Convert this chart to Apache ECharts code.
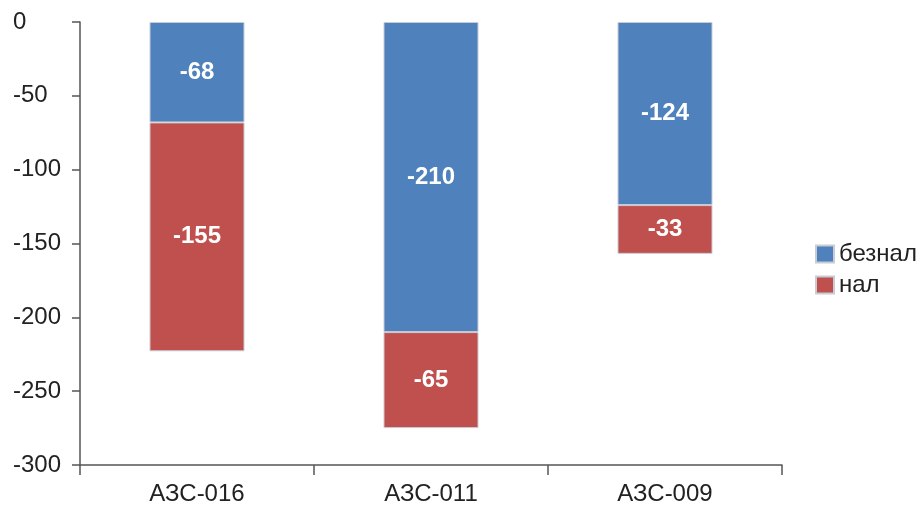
<!DOCTYPE html>
<html><head><meta charset="utf-8">
<script src="https://cdn.jsdelivr.net/npm/echarts@6/dist/echarts.min.js"></script>
<style>html,body{margin:0;padding:0;background:#fff}#c{width:924px;height:506px}</style>
</head><body><div id="c"></div>
<script>
const categories = ['АЗС-016', 'АЗС-011', 'АЗС-009'];
const beznal = [-68, -210, -124];
const nal = [-155, -65, -33];
const yTicks = [0, -50, -100, -150, -200, -250, -300];

const chart = echarts.init(document.getElementById('c'));
const FF = 'Liberation Sans, Arial, sans-serif';
const lbl = {show: true, position: 'inside', color: '#fff', fontWeight: 'bold', fontSize: 24, fontFamily: FF};
chart.setOption({
  animation: false,
  backgroundColor: '#fff',
  textStyle: {fontFamily: FF},
  grid: {left: 80, right: 142, top: 22, bottom: 41},
  legend: {
    orient: 'vertical', left: 810, top: 237, itemWidth: 18, itemHeight: 17, itemGap: 7,
    icon: 'rect',
    textStyle: {fontSize: 24, color: '#222'},
    data: ['безнал', 'нал']
  },
  xAxis: {
    type: 'category', data: categories,
    axisLine: {onZero: false, lineStyle: {color: '#555', width: 1.5}},
    axisTick: {show: true, length: 10, lineStyle: {color: '#555', width: 1.5}},
    axisLabel: {fontSize: 24, color: '#222', margin: 17}
  },
  yAxis: {
    type: 'value', min: -300, max: 0, interval: 50,
    splitLine: {show: false},
    axisLine: {show: true, lineStyle: {color: '#555', width: 1.5}},
    axisTick: {show: true, length: 8, lineStyle: {color: '#555', width: 1.5}},
    axisLabel: {fontSize: 24, color: '#222', align: 'left', margin: 67,
      formatter: v => yTicks.includes(v) ? String(v) : ''}
  },
  series: [
    {name: 'безнал', type: 'bar', stack: 's', data: beznal, barWidth: 95,
     itemStyle: {color: '#4F81BD', borderColor: '#c8ccd4', borderWidth: 1}, label: lbl},
    {name: 'нал', type: 'bar', stack: 's', data: nal, barWidth: 95,
     itemStyle: {color: '#C0504D', borderColor: '#c8ccd4', borderWidth: 1}, label: lbl}
  ]
});
</script></body></html>
